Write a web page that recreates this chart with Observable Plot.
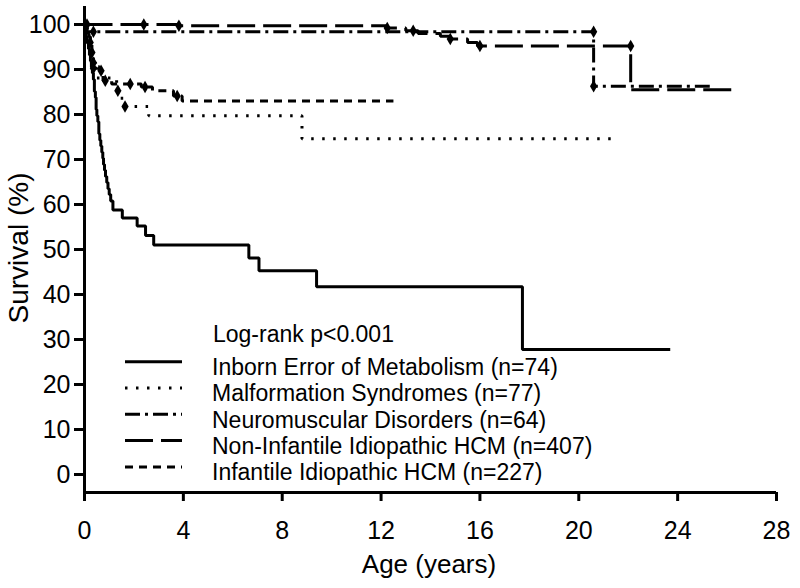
<!DOCTYPE html>
<html>
<head>
<meta charset="utf-8">
<script src="https://cdn.jsdelivr.net/npm/d3@7"></script>
<script src="https://cdn.jsdelivr.net/npm/@observablehq/plot@0.6"></script>
<style>
  html, body { margin: 0; padding: 0; background: #fff; }
  #chart { width: 800px; height: 588px; }
  svg { font-family: "Liberation Sans", Arial, sans-serif; }
</style>
</head>
<body>
<div id="chart"></div>
<script>
// ---- Data ----
const seriesNames = [
  "Inborn Error of Metabolism (n=74)",
  "Malformation Syndromes (n=77)",
  "Neuromuscular Disorders (n=64)",
  "Non-Infantile Idiopathic HCM (n=407)",
  "Infantile Idiopathic HCM (n=227)"
];

const inbornT = [0, 0.03, 0.07, 0.11, 0.16, 0.2, 0.24, 0.28, 0.32, 0.36, 0.4, 0.44, 0.47, 0.5, 0.54, 0.58, 0.62, 0.66, 0.7, 0.74, 0.77, 0.81, 0.85, 0.9, 0.95, 1.0, 1.06, 1.15, 1.53, 2.13, 2.47, 2.8, 6.65, 7.06, 9.39, 17.72, 23.7];
const inbornS = [100, 98.6, 97.3, 95.9, 94.6, 93.2, 91.9, 90.5, 89.2, 87.8, 85.1, 83.8, 81.1, 79.7, 78.4, 75.7, 74.3, 73.0, 71.6, 70.3, 68.9, 67.6, 66.2, 64.9, 63.5, 62.2, 60.8, 58.8, 57.0, 55.2, 53.1, 51.0, 48.1, 45.3, 41.7, 27.8, 27.8];

const malT = [0, 0.08, 0.16, 0.24, 0.3, 0.36, 0.5, 1.3, 1.45, 1.6, 2.6, 8.8, 21.3];
const malS = [100, 98.7, 97.4, 94.8, 92.2, 90.3, 88.1, 85.3, 83.6, 81.8, 79.7, 74.6, 74.6];

const neuroT = [0, 0.1, 20.6, 25.3];
const neuroS = [100, 98.4, 86.3, 86.3];

const nonInfT = [0, 3.8, 12.2, 13.0, 13.5, 14.4, 14.8, 15.5, 15.9, 22.1, 26.2];
const nonInfS = [100, 99.7, 99.2, 98.6, 98.0, 97.4, 96.8, 96.0, 95.2, 85.5, 85.5];

const infT = [0, 0.06, 0.12, 0.18, 0.24, 0.3, 0.36, 0.45, 0.6, 0.75, 1.1, 2.3, 2.75, 3.6, 3.95, 12.5];
const infS = [100, 99.1, 98.2, 97.3, 96.0, 93.8, 91.5, 90.6, 89.7, 87.5, 86.8, 86.1, 85.3, 84.1, 83.0, 83.0];

// censoring marks
const malCensT = [0.36, 1.35, 1.64];
const malCensS = [90.3, 85.3, 81.8];
const neuroCensT = [0.36, 20.6, 20.6];
const neuroCensS = [98.4, 98.4, 86.3];
const nonInfCensT = [0.1, 2.4, 3.82, 12.25, 13.3, 14.8, 16.0, 22.1];
const nonInfCensS = [100, 100, 99.7, 99.2, 98.6, 96.8, 95.2, 95.2];
const infCensT = [0.23, 0.3, 0.36, 0.67, 0.84, 1.85, 2.45, 3.75];
const infCensS = [96.0, 93.8, 91.5, 89.7, 87.5, 86.8, 86.1, 84.1];

const xTicks = [0, 4, 8, 12, 16, 20, 24, 28];
const yTicks = [0, 10, 20, 30, 40, 50, 60, 70, 80, 90, 100];
const annotation = "Log-rank p<0.001";
const xTitle = "Age (years)";
const yTitle = "Survival (%)";

// ---- Build tables ----
const toRows = (T, S) => T.map((t, i) => ({t, s: S[i]}));
const dashes = [null, "2.5,8.5", "15,5,3,5", "28,8", "8,6"];
const curves = [
  {rows: toRows(inbornT, inbornS), cens: []},
  {rows: toRows(malT, malS), cens: toRows(malCensT, malCensS)},
  {rows: toRows(neuroT, neuroS), cens: toRows(neuroCensT, neuroCensS)},
  {rows: toRows(nonInfT, nonInfS), cens: toRows(nonInfCensT, nonInfCensS)},
  {rows: toRows(infT, infS), cens: toRows(infCensT, infCensS)}
];

const marks = [];
curves.forEach((c, i) => {
  marks.push(Plot.line(c.rows, {
    x: "t", y: "s", curve: "step-after", stroke: "black", strokeWidth: 3,
    strokeDasharray: dashes[i] || undefined, strokeLinecap: "butt", strokeLinejoin: "miter"
  }));
});
curves.forEach((c) => {
  if (c.cens.length) marks.push(Plot.dot(c.cens, {x: "t", y: "s", symbol: "diamond", r: 3.8, fill: "black", stroke: "none"}));
});

marks.push(
  Plot.axisX({ticks: xTicks, tickSize: 9, tickPadding: 20, fontSize: 25, strokeWidth: 3, label: null, tickFormat: d => String(d)}),
  Plot.axisY({ticks: yTicks, tickSize: 10, tickPadding: 4, fontSize: 25, strokeWidth: 3, label: null, tickFormat: d => String(d)}),
  Plot.ruleX([0], {y1: -4, y2: 104, strokeWidth: 3, stroke: "black"}),
  Plot.ruleY([-4], {x1: 0, x2: 28, strokeWidth: 3, stroke: "black"})
);

const chart = Plot.plot({
  width: 800,
  height: 588,
  marginLeft: 84,
  marginRight: 24,
  marginTop: 6,
  marginBottom: 96,
  x: {domain: [0, 28]},
  y: {domain: [-4, 104]},
  style: {fontFamily: "'Liberation Sans', Arial, sans-serif", color: "black", background: "white"},
  marks
});

const svg = d3.select(chart);
// Axis titles
svg.append("text").attr("x", 429).attr("y", 573).attr("text-anchor", "middle")
  .attr("font-size", 26).attr("fill", "black").text(xTitle);
svg.append("text").attr("transform", "translate(28,248) rotate(-90)").attr("text-anchor", "middle")
  .attr("font-size", 28).attr("fill", "black").text(yTitle);

// Legend
const lg = svg.append("g").attr("font-size", 23).attr("fill", "black").attr("text-anchor", "start");
lg.append("text").attr("x", 213).attr("y", 341.5).attr("text-anchor", "start").text(annotation);
seriesNames.forEach((name, i) => {
  const base = 375 + i * 26.3;
  const ln = lg.append("line").attr("x1", 125).attr("x2", 182)
    .attr("y1", base - 13.3).attr("y2", base - 13.3)
    .attr("stroke", "black").attr("stroke-width", 3);
  if (dashes[i]) ln.attr("stroke-dasharray", dashes[i]);
  lg.append("text").attr("x", 212).attr("y", base).attr("text-anchor", "start").text(name);
});

document.getElementById("chart").appendChild(chart);
</script>
</body>
</html>
